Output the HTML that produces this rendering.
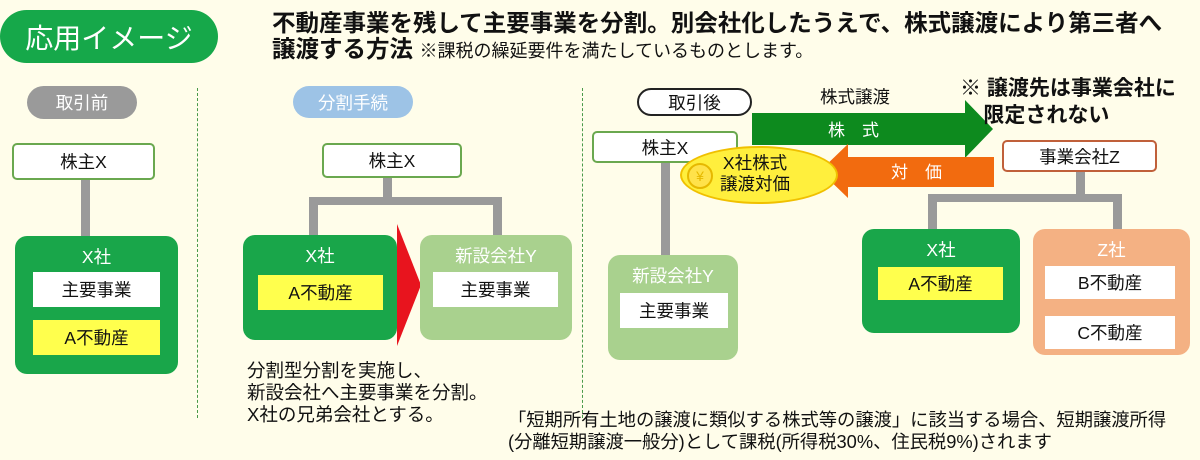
<!DOCTYPE html>
<html><head><meta charset="utf-8"><style>
*{margin:0;padding:0;box-sizing:border-box}
body{width:1200px;height:460px;background:#fffdea;position:relative;overflow:hidden;font-family:"Liberation Sans","Noto Sans CJK JP",sans-serif;color:#111}
.a{position:absolute}
.c{position:absolute;display:flex;align-items:center;justify-content:center;font-size:17.5px;white-space:nowrap}
.g{background:#19a64a;border-radius:12px}
.lg{background:#a9d18e;border-radius:12px}
.w{background:#fff}
.y{background:#ffff4d}
.bx{background:#fff;border:2px solid #6aa84f;border-radius:5px}
.gr{position:absolute;background:#9a9a9a}
.lbl{position:absolute;left:0;right:0;text-align:center;color:#fff;font-size:17.5px}
.dash{position:absolute;width:0;border-left:1px dashed #4a9a4a}
.t{position:absolute;font-size:18.3px;line-height:22px;white-space:nowrap}
</style></head><body>
<div class="c" style="left:0;top:10px;width:218px;height:53px;background:#16a84a;border-radius:27px;color:#fff;font-size:28px">応用イメージ</div>
<div class="t" style="left:272px;top:9px;font-size:23.5px;font-weight:bold;line-height:28px">不動産事業を残して主要事業を分割。別会社化したうえで、株式譲渡により第三者へ</div>
<div class="t" style="left:272px;top:35px;font-size:23.5px;font-weight:bold;line-height:28px">譲渡する方法 <span style="font-size:18px;font-weight:normal">※課税の繰延要件を満たしているものとします。</span></div>

<div class="dash" style="left:197px;top:88px;height:330px"></div>
<div class="dash" style="left:582px;top:88px;height:330px"></div>

<!-- left -->
<div class="c" style="left:27px;top:86px;width:110px;height:33px;background:#9a9a9a;border-radius:17px;color:#fff">取引前</div>
<div class="c bx" style="left:12px;top:143px;width:143px;height:37px">株主X</div>
<div class="gr" style="left:81px;top:180px;width:9px;height:57px"></div>
<div class="a g" style="left:15px;top:236px;width:163px;height:138px"><div class="lbl" style="top:8px">X社</div></div>
<div class="c w" style="left:33px;top:272px;width:127px;height:35px">主要事業</div>
<div class="c y" style="left:33px;top:320px;width:127px;height:35px">A不動産</div>

<!-- middle -->
<div class="c" style="left:293px;top:86px;width:120px;height:32px;background:#9dc3e6;border-radius:16px;color:#fff">分割手続</div>
<div class="c bx" style="left:322px;top:143px;width:140px;height:35px">株主X</div>
<div class="gr" style="left:383px;top:178px;width:9px;height:22px"></div>
<div class="gr" style="left:309px;top:197px;width:193px;height:8px"></div>
<div class="gr" style="left:309px;top:197px;width:9px;height:40px"></div>
<div class="gr" style="left:493px;top:197px;width:9px;height:40px"></div>
<div class="a g" style="left:243px;top:235px;width:154px;height:105px"><div class="lbl" style="top:8px">X社</div></div>
<div class="c y" style="left:258px;top:275px;width:125px;height:35px">A不動産</div>
<svg class="a" style="left:397px;top:224px" width="26" height="122"><polygon points="0,0 24,61 0,122" fill="#e8141e"/></svg>
<div class="a lg" style="left:420px;top:235px;width:152px;height:105px"><div class="lbl" style="top:8px">新設会社Y</div></div>
<div class="c w" style="left:433px;top:272px;width:125px;height:35px">主要事業</div>
<div class="t" style="left:247px;top:360px;font-size:18.5px">分割型分割を実施し、<br>新設会社へ主要事業を分割。<br>X社の兄弟会社とする。</div>

<!-- right -->
<div class="c" style="left:637px;top:88px;width:115px;height:28px;background:#fff;border:2px solid #222;border-radius:14px">取引後</div>
<div class="t" style="left:820px;top:86px;font-size:17.5px">株式譲渡</div>
<div class="c bx" style="left:592px;top:131px;width:146px;height:32px">株主X</div>
<div class="gr" style="left:661px;top:163px;width:9px;height:95px"></div>
<div class="a lg" style="left:608px;top:255px;width:130px;height:105px"><div class="lbl" style="top:8px">新設会社Y</div></div>
<div class="c w" style="left:620px;top:293px;width:108px;height:35px">主要事業</div>

<svg class="a" style="left:750px;top:98px" width="245" height="62"><polygon points="2,15 215,15 215,2 243,31 215,60 215,47 2,47" fill="#0d8a1e"/><text x="78" y="38" fill="#fff" font-size="17" font-family="Liberation Sans,Noto Sans CJK JP,sans-serif">株　式</text></svg>
<svg class="a" style="left:818px;top:142px" width="178" height="58"><polygon points="2,29 30,2 30,15 176,15 176,45 30,45 30,56" fill="#f26b0f"/><text x="73" y="36" fill="#fff" font-size="17" font-family="Liberation Sans,Noto Sans CJK JP,sans-serif">対　価</text></svg>

<div class="a" style="left:680px;top:146px;width:158px;height:58px;background:#ffef3d;border:2px solid #f0c000;border-radius:50%"></div>
<div class="c" style="left:687px;top:163px;width:26px;height:26px;border:2px solid #e6b800;border-radius:50%;background:#ffe24a;color:#e6b800;font-size:14px">¥</div>
<div class="t" style="left:720px;top:153px;line-height:21px;text-align:center;font-size:17.5px">X社株式<br>譲渡対価</div>

<div class="t" style="left:960px;top:75px;font-size:21px;font-weight:bold;line-height:27px">※ 譲渡先は事業会社に<br>&nbsp;&nbsp;&nbsp;&nbsp;限定されない</div>
<div class="c" style="left:1002px;top:140px;width:155px;height:32px;background:#fff;border:2px solid #c0603a;border-radius:5px">事業会社Z</div>
<div class="gr" style="left:1076px;top:172px;width:9px;height:25px"></div>
<div class="gr" style="left:928px;top:194px;width:194px;height:8px"></div>
<div class="gr" style="left:928px;top:194px;width:9px;height:36px"></div>
<div class="gr" style="left:1113px;top:194px;width:9px;height:36px"></div>
<div class="a g" style="left:862px;top:229px;width:158px;height:104px"><div class="lbl" style="top:8px">X社</div></div>
<div class="c y" style="left:878px;top:267px;width:125px;height:33px">A不動産</div>
<div class="a" style="left:1033px;top:229px;width:157px;height:126px;background:#f4b183;border-radius:12px"><div class="lbl" style="top:8px">Z社</div></div>
<div class="c w" style="left:1045px;top:266px;width:130px;height:33px">B不動産</div>
<div class="c w" style="left:1045px;top:316px;width:130px;height:33px">C不動産</div>

<div class="t" style="left:508px;top:409px">「短期所有土地の譲渡に類似する株式等の譲渡」に該当する場合、短期譲渡所得<br>(分離短期譲渡一般分)として課税(所得税30%、住民税9%)されます</div>
</body></html>
